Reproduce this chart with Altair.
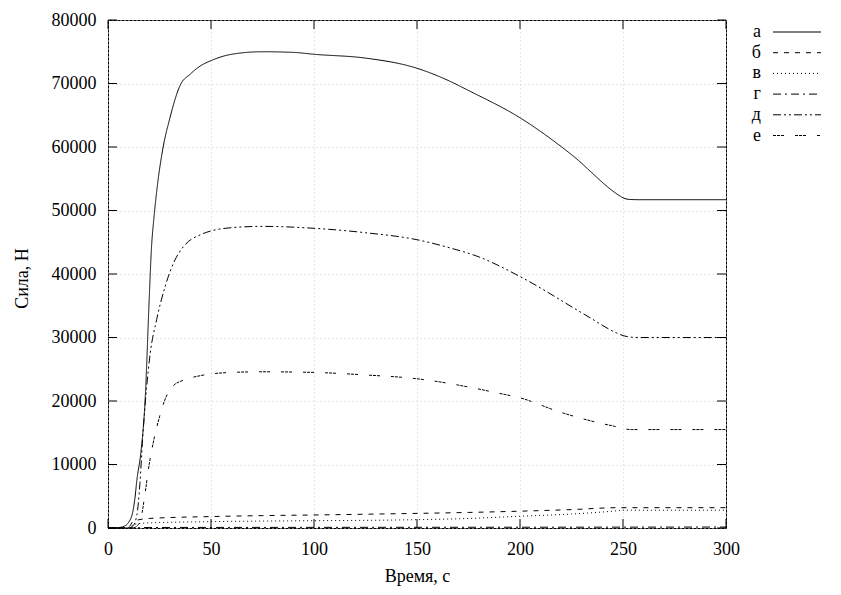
import altair as alt
import pandas as pd

# ---------------- data ----------------
series_names = ["а", "б", "в", "г", "д", "е"]

t_a = [0, 3, 6, 8, 10, 12, 13, 14, 16, 18, 20, 21, 22.5, 24, 26.5, 30, 35, 40, 45, 50, 60, 75, 90,
       100, 125, 150, 165, 175, 200, 225, 248, 250, 253, 258, 300]
f_a = [0, 0, 100, 300, 900, 2500, 4500, 7500, 12000, 20000, 36000, 43500, 49500, 54000, 59500, 64500,
       69700, 71500, 72800, 73600, 74600, 75000, 74900, 74600, 74000, 72400, 70500, 68900, 64600, 58800,
       52400, 52000, 51750, 51700, 51700]

t_b = [0, 10, 12, 15, 20, 50, 75, 100, 140, 175, 200, 225, 248, 300]
f_b = [0, 100, 1000, 1300, 1500, 1800, 1950, 2050, 2250, 2450, 2650, 2900, 3200, 3200]

t_v = [0, 10, 13, 20, 50, 100, 140, 175, 200, 225, 245, 250, 300]
f_v = [0, 100, 600, 800, 1000, 1150, 1260, 1500, 1850, 2200, 2650, 2800, 2800]

t_g = [0, 10, 20, 100, 200, 300]
f_g = [0, 0, 80, 100, 120, 150]

t_d = [0, 10, 12, 14, 15.5, 16.8, 18.7, 20.5, 23.6, 27.7, 32.5, 36.6, 45, 60, 75, 100, 125, 150, 165, 180,
       200, 232, 247, 250, 254, 258, 300]
f_d = [0, 0, 300, 2000, 7000, 14000, 22000, 27500, 32800, 38000, 42200, 44300, 46200, 47300, 47500, 47200,
       46500, 45400, 44200, 42700, 39600, 33500, 30700, 30300, 30050, 30000, 30000]

t_e = [0, 12, 14, 16, 18, 20, 22, 25, 28, 32, 36, 45, 60, 75, 100, 125, 150, 165, 175, 190, 200, 219,
       239, 246, 250, 254, 300]
f_e = [0, 0, 300, 1500, 5500, 10000, 13500, 17500, 20500, 22500, 23200, 24000, 24500, 24600, 24500, 24100,
       23500, 22800, 22200, 21200, 20500, 18300, 16500, 16000, 15650, 15500, 15500]

x_ticks = [0, 50, 100, 150, 200, 250, 300]
y_ticks = [0, 10000, 20000, 30000, 40000, 50000, 60000, 70000, 80000]

# ---------------- styles ----------------
dash_patterns = [[1, 0], [5, 6], [1, 3], [8, 4, 2, 4], [8, 3, 2, 3, 2, 3], [3, 1, 3, 1, 3, 11]]
W, H = 618, 508
FONT = "Liberation Serif"
FS = 18
TICK = 9
GRID_COLOR = "#cccccc"
GRID_DASH = [1, 3]

ts = [t_a, t_b, t_v, t_g, t_d, t_e]
fs = [f_a, f_b, f_v, f_g, f_d, f_e]
rows = []
for name, tt, ff in zip(series_names, ts, fs):
    for t, f in zip(tt, ff):
        rows.append({"t": t, "F": f, "series": name})
df = pd.DataFrame(rows)

xscale = alt.Scale(domain=[0, 300], nice=False, zero=False)
yscale = alt.Scale(domain=[0, 80000], nice=False)

lines = alt.Chart(df).mark_line(color="black", strokeWidth=1, interpolate="monotone").encode(
    x=alt.X("t:Q", scale=xscale,
            axis=alt.Axis(values=x_ticks, title="Время, с", grid=True, ticks=False, domain=False,
                          format="d", labelFlush=False, labelFont=FONT, labelFontSize=FS,
                          labelPadding=12, titleFont=FONT, titleFontSize=FS,
                          titleX=W / 2, titleY=48, titleBaseline="middle", titleAlign="center",
                          gridColor=GRID_COLOR, gridDash=GRID_DASH, gridWidth=1)),
    y=alt.Y("F:Q", scale=yscale,
            axis=alt.Axis(values=y_ticks, title="Сила, Н", grid=True, ticks=False, domain=False,
                          format="d", labelFlush=False, labelFont=FONT, labelFontSize=FS,
                          labelPadding=12, titleFont=FONT, titleFontSize=FS,
                          titleX=-86, titleY=258, titleBaseline="middle", titleAlign="center",
                          titleAngle=270,
                          gridColor=GRID_COLOR, gridDash=GRID_DASH, gridWidth=1)),
    strokeDash=alt.StrokeDash("series:N", scale=alt.Scale(domain=series_names, range=dash_patterns),
                              legend=None),
    detail="series:N",
)

xt = pd.DataFrame({"t": x_ticks})
yt = pd.DataFrame({"F": y_ticks})
tick_bottom = alt.Chart(xt).mark_rule(color="black", strokeWidth=1).encode(
    x=alt.X("t:Q", scale=xscale), y=alt.value(H), y2=alt.value(H - TICK))
tick_top = alt.Chart(xt).mark_rule(color="black", strokeWidth=1).encode(
    x=alt.X("t:Q", scale=xscale), y=alt.value(0), y2=alt.value(TICK))
tick_left = alt.Chart(yt).mark_rule(color="black", strokeWidth=1).encode(
    y=alt.Y("F:Q", scale=yscale), x=alt.value(0), x2=alt.value(TICK))
tick_right = alt.Chart(yt).mark_rule(color="black", strokeWidth=1).encode(
    y=alt.Y("F:Q", scale=yscale), x=alt.value(W), x2=alt.value(W - TICK))

legend_layers = []
for i, (name, dash) in enumerate(zip(series_names, dash_patterns)):
    ld = pd.DataFrame({"name": [name]})
    yy = 12 + 20.7 * i
    legend_layers.append(
        alt.Chart(ld).mark_rule(color="black", strokeWidth=1, strokeDash=dash).encode(
            x=alt.value(665), x2=alt.value(713), y=alt.value(yy)))
    legend_layers.append(
        alt.Chart(ld).mark_text(font=FONT, fontSize=FS, align="right", baseline="middle",
                                color="black").encode(
            x=alt.value(653), y=alt.value(yy), text="name:N"))

chart = alt.layer(lines, tick_bottom, tick_top, tick_left, tick_right, *legend_layers).properties(
    width=W, height=H,
    padding={"left": 100, "top": 12, "right": 107, "bottom": 59},
    autosize=alt.AutoSizeParams(type="none"),
).configure(font=FONT).configure_view(stroke="black", strokeWidth=1).configure_axis(
    labelFont=FONT, labelFontSize=FS, labelColor="black",
    titleFont=FONT, titleFontSize=FS, titleFontWeight="normal", titleColor="black",
)

chart.save("out.html", embed_options={"renderer": "svg", "actions": False})
